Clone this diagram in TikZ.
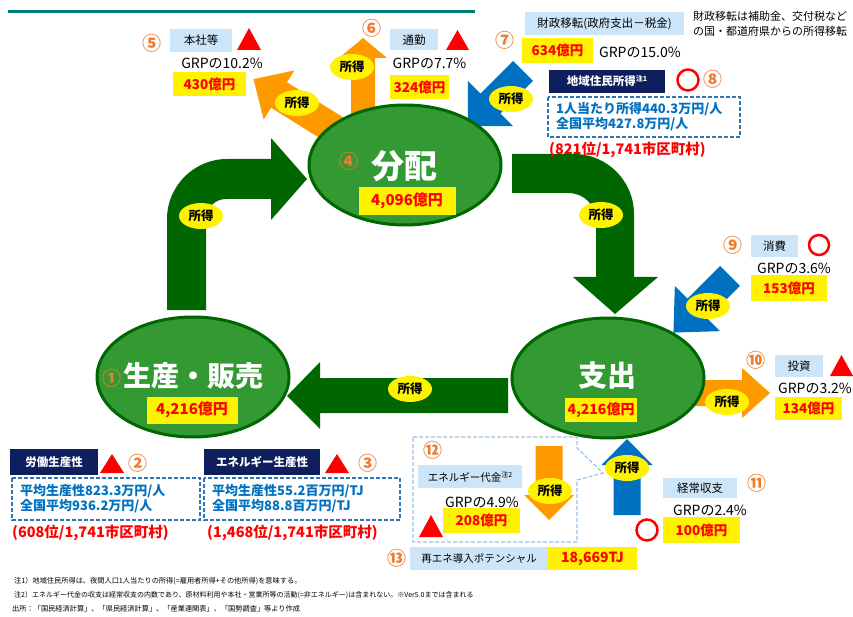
\documentclass[tikz,border=0pt]{standalone}
\usepackage{fontspec}
\setmainfont{Noto Sans CJK JP}
\usetikzlibrary{shapes.geometric}
\definecolor{dkgreen}{HTML}{006600}
\definecolor{midgreen}{HTML}{339933}
\definecolor{orgarrow}{HTML}{FF9900}
\definecolor{bluearrow}{HTML}{0070C0}
\definecolor{numor}{HTML}{ED7D31}
\definecolor{lblue}{HTML}{CDE5F8}
\definecolor{navybox}{HTML}{0F1F5E}
\definecolor{dashblue}{HTML}{2E75B6}
\definecolor{calloutblue}{HTML}{9DC3E6}
\definecolor{topteal}{HTML}{00807A}
\newcommand{\fsz}[1]{\fontsize{#1}{#1}\selectfont}
\newcommand{\fatarrow}[8]{\fill[#8, shift={(#1,#2)}, rotate=#3] (0,-#5) -- (#4-#7,-#5) -- (#4-#7,-#6) -- (#4,0) -- (#4-#7,#6) -- (#4-#7,#5) -- (0,#5) -- cycle;}
\newcommand{\redtri}[4]{\fill[red] (#1,#4) -- ({(#1+#3)/2},#2) -- (#3,#4) -- cycle;}
\begin{document}
\begin{tikzpicture}[x=1pt,y=-1pt,
  lbl/.style={fill=lblue, inner sep=0pt, font=\fsz{11.5}},
  yel/.style={fill=yellow, text=red, inner sep=0pt, font=\bfseries\fsz{13.5}},
  nvy/.style={fill=navybox, text=white, inner sep=0pt, font=\bfseries\fsz{11.5}},
  grp/.style={inner sep=0pt, font=\fsz{14}},
  num/.style={text=numor, inner sep=0pt, font=\bfseries\fsz{19}},
  tok/.style={ellipse, fill=yellow, inner sep=0pt, minimum width=44pt, minimum height=26pt, font=\bfseries\fsz{12.5}},
  hub/.style={ellipse, draw=dkgreen, line width=3pt, fill=midgreen, minimum width=192pt, minimum height=120pt},
  dbox/.style={draw=dashblue, line width=1.5pt, dash pattern=on 4pt off 2pt},
  btxt/.style={text=bluearrow, font=\bfseries\fontsize{13}{15}\selectfont, align=left, inner sep=0pt, anchor=west},
  rank/.style={text=red, font=\bfseries\fsz{14.5}, inner sep=0pt, anchor=west},
  foot/.style={anchor=west, inner sep=0pt, font=\fsz{7.2}}
]
\useasboundingbox (0,0) rectangle (853,617);
\fill[white] (0,0) rectangle (853,617);
% top rule
\draw[topteal, line width=3pt] (8,12) -- (475,12);

% big green arrows
\fill[dkgreen] (167,310) -- (167,219) .. controls (167,186) and (194,159) .. (227,159) -- (271,159) -- (271,138) -- (307,179) -- (271,220) -- (271,199) -- (226,199) .. controls (215,199) and (206,208) .. (206,219) -- (206,310) -- cycle;
\fill[dkgreen] (512,154) -- (574,154) .. controls (607,154) and (634,181) .. (634,214) -- (634,277) -- (658,277) -- (615,314) -- (573,277) -- (596,277) -- (596,221) .. controls (596,205) and (584,193) .. (568,193) -- (512,193) -- cycle;
\fill[dkgreen] (508,378) -- (320,378) -- (320,362) -- (287,396) -- (320,429) -- (320,413) -- (508,413) -- cycle;

% small arrows
\fatarrow{335}{130}{148}{96}{15}{29}{30}{orgarrow}
\fatarrow{363}{118}{90}{80}{12}{24}{20}{orgarrow}
\fatarrow{523}{71}{225}{78}{14}{32}{32}{bluearrow}
\fatarrow{730}{276}{225}{80}{14}{32}{34}{bluearrow}
\fatarrow{685}{393}{0}{85}{13}{25}{28}{orgarrow}
\fatarrow{627}{515}{90}{76}{13.5}{25.5}{26}{bluearrow}

% hubs
\node[hub] (dist) at (405,165) {};
\node[hub] (prod) at (193,377) {};
\node[hub] (spend) at (608,378) {};

\node[text=white, font=\bfseries\fsz{33}, inner sep=0pt] (distT) at (404,166) {分配};
\node[num] (n4) at (349,161) {④};
\node[yel, minimum width=97pt, minimum height=28pt, font=\bfseries\fsz{15}] (distV) at (407,201) {4,096億円};

\node[text=white, font=\bfseries\fsz{28}, inner sep=0pt] (prodT) at (193,376) {生産・販売};
\node[num] (n1) at (112,378) {①};
\node[yel, minimum width=91pt, minimum height=27pt, font=\bfseries\fsz{15}] (prodV) at (192,410) {4,216億円};

\node[text=white, font=\bfseries\fsz{29}, inner sep=0pt] (spendT) at (607,376) {支出};
\node[yel, minimum width=72pt, minimum height=24pt, font=\bfseries\fsz{14}] (spendV) at (601,410) {4,216億円};

% income labels
\node[tok] (k1) at (201,216) {所得};
\node[tok] (k2) at (601,215) {所得};
\node[tok] (k3) at (410,389) {所得};
\node[tok] (k5) at (297,103) {所得};
\node[tok] (k6) at (352,67) {所得};
\node[tok] (k7) at (511,99) {所得};
\node[tok] (k9) at (708,306) {所得};
\node[tok] (k10) at (727,402) {所得};
\node[tok] (k11) at (627,468) {所得};

% 5
\node[num] (n5) at (152,43) {⑤};
\node[lbl, minimum width=62pt, minimum height=23pt] (l5) at (201,40.5) {本社等};
\redtri{237}{28}{261}{50}
\node[grp] (g5) at (222,63) {GRPの10.2\%};
\node[yel, minimum width=73pt, minimum height=24pt] (v5) at (209.5,84) {430億円};

% 6
\node[num] (n6) at (372,28) {⑥};
\node[lbl, minimum width=48pt, minimum height=21pt] (l6) at (414,40) {通勤};
\redtri{446}{30}{469}{50}
\node[grp] (g6) at (429.5,63) {GRPの7.7\%};
\node[yel, minimum width=59pt, minimum height=24pt] (v6) at (419.5,87) {324億円};

% 7
\node[num] (n7) at (505,40) {⑦};
\node[lbl, minimum width=159pt, minimum height=23pt] (l7) at (604.5,23.5) {財政移転(政府支出－税金)};
\node[inner sep=0pt, anchor=north west, align=left, font=\fontsize{11}{15}\selectfont] (note7) at (693,11) {財政移転は補助金、交付税など\\の国・都道府県からの所得移転};
\node[yel, minimum width=71pt, minimum height=25pt] (v7) at (557.5,50.5) {634億円};
\node[grp, anchor=west] (g7) at (599,52) {GRPの15.0\%};

% 8
\node[nvy, minimum width=116pt, minimum height=23pt] (l8) at (607,81.5) {地域住民所得\raisebox{4pt}{\fsz{7}注1}};
\draw[red, line width=2.5pt] (688,80) circle (10.5);
\node[num] (n8) at (713,79) {⑧};
\draw[dbox] (548,97) rectangle (740,137);
\node[btxt] (t8) at (556,117) {1人当たり所得440.3万円/人\\全国平均427.8万円/人};
\node[rank] (r8) at (549,150) {(821位/1,741市区町村)};

% 9
\node[num] (n9) at (733,245) {⑨};
\node[lbl, minimum width=47pt, minimum height=22pt] (l9) at (774.5,246) {消費};
\draw[red, line width=2.5pt] (819,245) circle (10);
\node[grp] (g9) at (794,268) {GRPの3.6\%};
\node[yel, minimum width=76pt, minimum height=26pt] (v9) at (789,288) {153億円};

% 10
\node[num] (n10) at (756,360) {⑩};
\node[lbl, minimum width=48pt, minimum height=22pt] (l10) at (799,366) {投資};
\redtri{830}{355}{853}{376}
\node[grp] (g10) at (815,388) {GRPの3.2\%};
\node[yel, minimum width=67pt, minimum height=23pt] (v10) at (808.5,408.5) {134億円};

% 11
\node[lbl, minimum width=74pt, minimum height=20pt] (l11) at (700,488) {経常収支};
\node[num] (n11) at (757,483) {⑪};
\node[grp] (g11) at (710,510) {GRPの2.4\%};
\draw[red, line width=2.5pt] (647,530) circle (10.5);
\node[yel, minimum width=77pt, minimum height=26pt] (v11) at (701.5,530) {100億円};

% 12
\draw[calloutblue, line width=1.2pt, dash pattern=on 4pt off 2pt] (413,437) -- (577,437) -- (577,448) -- (603,473) -- (577,480) -- (577,542) -- (413,542) -- cycle;
\node[num] (n12) at (433,450) {⑫};
\node[lbl, minimum width=104pt, minimum height=23pt, font=\fsz{10.5}] (l12) at (470,476.5) {エネルギー代金\raisebox{4pt}{\fsz{7}注2}};
\fatarrow{549}{446}{270}{74}{13.5}{25}{25}{orgarrow}
\node[tok] (k12) at (550,491) {所得};
\node[grp] (g12) at (482,502) {GRPの4.9\%};
\redtri{419}{515}{443}{537}
\node[yel, minimum width=77pt, minimum height=25pt] (v12) at (481.5,520.5) {208億円};

% 13
\node[num] (n13) at (397,558) {⑬};
\node[lbl, minimum width=138pt, minimum height=23pt, font=\fsz{10.5}] (l13) at (479,558.5) {再エネ導入ポテンシャル};
\node[yel, minimum width=89pt, minimum height=23pt, font=\bfseries\fsz{14}] (v13) at (592.5,558.5) {18,669TJ};

% 2
\node[nvy, minimum width=88pt, minimum height=26pt] (l2) at (54,462) {労働生産性};
\redtri{100}{454}{124}{473}
\node[num] (n2) at (138,463) {②};
\draw[dbox] (12,478) rectangle (200,520);
\node[btxt] (t2) at (20,499) {平均生産性823.3万円/人\\全国平均936.2万円/人};
\node[rank] (r2) at (12,533) {(608位/1,741市区町村)};

% 3
\node[nvy, minimum width=116pt, minimum height=26pt] (l3) at (262,462) {エネルギー生産性};
\redtri{325}{454}{349}{473}
\node[num] (n3) at (368,463) {③};
\draw[dbox] (204,478) rectangle (400,520);
\node[btxt] (t3) at (212,499) {平均生産性55.2百万円/TJ\\全国平均88.8百万円/TJ};
\node[rank] (r3) at (207,533) {(1,468位/1,741市区町村)};

% footnotes
\node[foot] (f1) at (14,581) {注1）地域住民所得は、夜間人口1人当たりの所得(=雇用者所得+その他所得)を意味する。};
\node[foot, font=\fsz{7}] (f2) at (14,595) {注2）エネルギー代金の収支は経常収支の内数であり、原材料利用や本社・営業所等の活動(=非エネルギー)は含まれない。※Ver5.0までは含まれる};
\node[foot] (f3) at (12,609) {出所：「国民経済計算」、「県民経済計算」、「産業連関表」、「国勢調査」等より作成};
\end{tikzpicture}
\end{document}
